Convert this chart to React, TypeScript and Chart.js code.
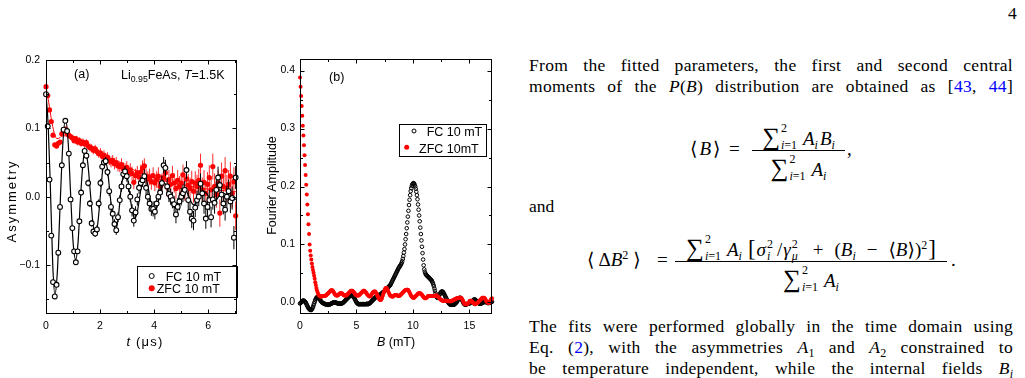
import React, { useEffect, useRef } from "react";
import { Chart, registerables } from "chart.js";

Chart.register(...registerables);

/* ---------- panel (a): muSR asymmetry vs time ---------- */

const TIME_US = [
  0, 0.065, 0.13, 0.195, 0.26, 0.325, 0.39, 0.455, 0.52, 0.585,
  0.65, 0.715, 0.78, 0.845, 0.91, 0.975, 1.04, 1.105, 1.17, 1.235,
  1.3, 1.365, 1.43, 1.495, 1.56, 1.625, 1.69, 1.755, 1.82, 1.885,
  1.95, 2.015, 2.08, 2.145, 2.21, 2.275, 2.34, 2.405, 2.47, 2.535,
  2.6, 2.665, 2.73, 2.795, 2.86, 2.925, 2.99, 3.055, 3.12, 3.185,
  3.25, 3.315, 3.38, 3.445, 3.51, 3.575, 3.64, 3.705, 3.77, 3.835,
  3.9, 3.965, 4.03, 4.095, 4.16, 4.225, 4.29, 4.355, 4.42, 4.485,
  4.55, 4.615, 4.68, 4.745, 4.81, 4.875, 4.94, 5.005, 5.07, 5.135,
  5.2, 5.265, 5.33, 5.395, 5.46, 5.525, 5.59, 5.655, 5.72, 5.785,
  5.85, 5.915, 5.98, 6.045, 6.11, 6.175, 6.24, 6.305, 6.37, 6.435,
  6.5, 6.565, 6.63, 6.695, 6.76, 6.825, 6.89, 6.955, 7.02,
];

const FC_ASYM = [
  0.150, 0.103, 0.025, -0.057, -0.125, -0.146, -0.129, -0.082, -0.015, 0.046,
  0.098, 0.111, 0.096, 0.063, -0.004, -0.046, -0.080, -0.096, -0.080, -0.036,
  0.006, 0.046, 0.067, 0.060, 0.020, -0.010, -0.039, -0.051, -0.054, -0.048,
  -0.010, 0.020, 0.044, 0.050, 0.052, 0.036, 0.008, -0.015, -0.025, -0.040,
  -0.049, -0.030, -0.005, 0.015, 0.033, 0.037, 0.030, 0.015, 0.000, -0.020,
  -0.035, -0.023, -0.004, 0.013, 0.020, 0.024, 0.030, 0.013, 0.000, -0.010,
  -0.018, -0.018, -0.022, -0.010, 0.000, 0.006, 0.020, 0.046, 0.042, 0.015,
  0.004, 0.000, -0.005, -0.011, -0.026, -0.015, -0.007, 0.000, 0.005, 0.010,
  0.039, -0.005, -0.022, -0.032, -0.035, -0.016, -0.005, 0.000, 0.019, 0.005,
  -0.010, -0.032, -0.015, -0.005, -0.030, -0.004, -0.009, 0.010, 0.028, 0.017,
  0.003, -0.010, -0.019, 0.000, 0.008, -0.007, -0.002, -0.060, 0.028,
];

const FC_ERR = [
  0.002, 0.002, 0.002, 0.002, 0.002, 0.002, 0.002, 0.003, 0.003, 0.003,
  0.003, 0.003, 0.003, 0.003, 0.003, 0.004, 0.004, 0.004, 0.004, 0.004,
  0.004, 0.004, 0.005, 0.005, 0.005, 0.005, 0.005, 0.005, 0.005, 0.006,
  0.006, 0.006, 0.006, 0.006, 0.006, 0.006, 0.007, 0.007, 0.007, 0.007,
  0.007, 0.007, 0.007, 0.008, 0.008, 0.008, 0.008, 0.008, 0.008, 0.009,
  0.009, 0.009, 0.009, 0.009, 0.009, 0.010, 0.010, 0.010, 0.010, 0.010,
  0.010, 0.011, 0.011, 0.011, 0.011, 0.011, 0.011, 0.012, 0.012, 0.012,
  0.012, 0.012, 0.012, 0.012, 0.013, 0.013, 0.013, 0.013, 0.013, 0.013,
  0.013, 0.014, 0.014, 0.014, 0.014, 0.014, 0.014, 0.014, 0.015, 0.015,
  0.015, 0.015, 0.015, 0.015, 0.015, 0.015, 0.016, 0.016, 0.016, 0.016,
  0.016, 0.016, 0.016, 0.016, 0.017, 0.017, 0.017, 0.017, 0.017,
];

const ZFC_ASYM = [
  0.161, 0.148, 0.127, 0.110, 0.090, 0.076, 0.074, 0.078, 0.080, 0.092,
  0.097, 0.099, 0.093, 0.090, 0.088, 0.086, 0.082, 0.085, 0.080, 0.082,
  0.078, 0.080, 0.077, 0.079, 0.074, 0.072, 0.071, 0.068, 0.070, 0.066,
  0.063, 0.064, 0.059, 0.061, 0.056, 0.058, 0.053, 0.051, 0.053, 0.048,
  0.050, 0.045, 0.044, 0.047, 0.041, 0.040, 0.043, 0.036, 0.039, 0.034,
  0.021, 0.031, 0.035, 0.029, 0.036, 0.042, 0.045, 0.030, 0.026, 0.029,
  0.022, 0.031, 0.020, 0.025, 0.030, 0.015, 0.021, 0.028, 0.035, 0.014,
  0.025, 0.018, 0.031, 0.020, 0.012, 0.024, 0.015, 0.020, 0.032, 0.010,
  0.026, 0.017, 0.012, 0.022, 0.008, 0.020, 0.015, 0.024, 0.046, 0.010,
  0.021, 0.005, 0.018, 0.028, 0.010, 0.044, 0.015, 0.003, 0.020, -0.024,
  0.030, 0.015, 0.038, 0.012, 0.018, 0.030, 0.005, 0.022, -0.028,
];

const ZFC_ERR = [
  0.002, 0.002, 0.002, 0.003, 0.003, 0.003, 0.003, 0.003, 0.003, 0.003,
  0.003, 0.003, 0.004, 0.004, 0.004, 0.004, 0.004, 0.004, 0.005, 0.005,
  0.005, 0.005, 0.005, 0.005, 0.005, 0.006, 0.006, 0.006, 0.006, 0.006,
  0.006, 0.007, 0.007, 0.007, 0.007, 0.007, 0.007, 0.008, 0.008, 0.008,
  0.008, 0.008, 0.008, 0.009, 0.009, 0.009, 0.009, 0.009, 0.010, 0.010,
  0.010, 0.010, 0.010, 0.010, 0.011, 0.011, 0.011, 0.011, 0.011, 0.012,
  0.012, 0.012, 0.012, 0.012, 0.013, 0.013, 0.013, 0.013, 0.013, 0.014,
  0.014, 0.014, 0.014, 0.014, 0.015, 0.015, 0.015, 0.015, 0.015, 0.016,
  0.016, 0.016, 0.016, 0.016, 0.017, 0.017, 0.017, 0.017, 0.017, 0.018,
  0.018, 0.018, 0.018, 0.018, 0.019, 0.019, 0.019, 0.019, 0.019, 0.020,
  0.020, 0.020, 0.020, 0.020, 0.021, 0.021, 0.021, 0.021, 0.021,
];

// fitted curves
const FC_FIT_T = [
  0, 0.08, 0.165, 0.25, 0.33, 0.42, 0.52, 0.62, 0.72, 0.82,
  0.91, 1.0, 1.1, 1.19, 1.28, 1.37, 1.46, 1.55, 1.65, 1.74,
  1.83, 1.92, 2.01, 2.1, 2.19, 2.28, 2.38, 2.48, 2.58, 2.67,
  2.75, 2.84, 2.93, 3.02, 3.11, 3.2, 3.29, 3.38, 3.47, 3.56,
  3.65, 3.74, 3.84, 3.93, 4.02, 4.11, 4.2, 4.29, 4.38, 4.47,
  4.57, 4.66, 4.76, 4.85, 4.94, 5.03, 5.12, 5.21, 5.3, 5.39,
  5.48, 5.57, 5.67, 5.76, 5.85, 5.94, 6.03, 6.12, 6.21, 6.3,
  6.39, 6.48, 6.58, 6.67, 6.76, 6.86, 6.95, 7.07,
];
const FC_FIT = [
  0.150, 0.105, 0.010, -0.100, -0.143, -0.110, -0.015, 0.075, 0.113, 0.080,
  0.005, -0.065, -0.092, -0.065, 0.000, 0.050, 0.068, 0.048, 0.002, -0.040,
  -0.055, -0.038, 0.000, 0.040, 0.054, 0.038, 0.000, -0.035, -0.048, -0.033,
  0.000, 0.027, 0.038, 0.026, 0.000, -0.022, -0.032, -0.022, 0.000, 0.022,
  0.031, 0.022, 0.000, -0.016, -0.022, -0.015, 0.000, 0.014, 0.020, 0.014,
  0.000, -0.012, -0.016, -0.011, 0.000, 0.008, 0.011, 0.007, -0.001, -0.009,
  -0.012, -0.008, 0.000, 0.006, 0.008, 0.005, 0.000, -0.005, -0.007, -0.005,
  0.000, 0.004, 0.005, 0.003, 0.000, -0.004, -0.005, -0.002,
];
const ZFC_FIT_T = [0, 0.1, 0.2, 0.3, 0.4, 0.5, 0.6, 0.8, 1.0, 1.5, 2.0, 2.5, 3.0, 3.5, 4.0, 4.5, 5.0, 5.5, 6.0, 6.5, 7.07];
const ZFC_FIT = [0.160, 0.138, 0.113, 0.094, 0.085, 0.086, 0.089, 0.089, 0.084, 0.074, 0.063, 0.052, 0.043, 0.035, 0.028, 0.022, 0.018, 0.014, 0.011, 0.009, 0.007];

const TIME_TICKS = [0, 2, 4, 6];
const TIME_LABELS = ["0", "2", "4", "6"];
const TIME_MINOR = [1, 3, 5, 7];
const ASYM_TICKS = [-0.1, 0, 0.1, 0.2];
const ASYM_LABELS = ["\u22120.1", "0.0", "0.1", "0.2"];
const ASYM_MINOR = [-0.15, -0.05, 0.05, 0.15];

/* ---------- panel (b): Fourier amplitude vs field ---------- */

const FIELD_MT = [
  0, 0.05, 0.1, 0.15, 0.2, 0.25, 0.3, 0.35, 0.4, 0.45, 0.5, 0.55, 0.6, 0.65, 0.7, 0.75, 0.8, 0.85, 0.9, 0.95,
  1, 1.05, 1.1, 1.15, 1.2, 1.25, 1.3, 1.35, 1.4, 1.45, 1.5, 1.55, 1.6, 1.65, 1.7, 1.75, 1.8, 1.85, 1.9, 1.95,
  2, 2.05, 2.1, 2.15, 2.2, 2.25, 2.3, 2.35, 2.4, 2.45, 2.5, 2.55, 2.6, 2.65, 2.7, 2.75, 2.8, 2.85, 2.9, 2.95,
  3, 3.05, 3.1, 3.15, 3.2, 3.25, 3.3, 3.35, 3.4, 3.45, 3.5, 3.55, 3.6, 3.65, 3.7, 3.75, 3.8, 3.85, 3.9, 3.95,
  4, 4.05, 4.1, 4.15, 4.2, 4.25, 4.3, 4.35, 4.4, 4.45, 4.5, 4.55, 4.6, 4.65, 4.7, 4.75, 4.8, 4.85, 4.9, 4.95,
  5, 5.05, 5.1, 5.15, 5.2, 5.25, 5.3, 5.35, 5.4, 5.45, 5.5, 5.55, 5.6, 5.65, 5.7, 5.75, 5.8, 5.85, 5.9, 5.95,
  6, 6.05, 6.1, 6.15, 6.2, 6.25, 6.3, 6.35, 6.4, 6.45, 6.5, 6.55, 6.6, 6.65, 6.7, 6.75, 6.8, 6.85, 6.9, 6.95,
  7, 7.05, 7.1, 7.15, 7.2, 7.25, 7.3, 7.35, 7.4, 7.45, 7.5, 7.55, 7.6, 7.65, 7.7, 7.75, 7.8, 7.85, 7.9, 7.95,
  8, 8.05, 8.1, 8.15, 8.2, 8.25, 8.3, 8.35, 8.4, 8.45, 8.5, 8.55, 8.6, 8.65, 8.7, 8.75, 8.8, 8.85, 8.9, 8.95,
  9, 9.05, 9.1, 9.15, 9.2, 9.25, 9.3, 9.35, 9.4, 9.45, 9.5, 9.55, 9.6, 9.65, 9.7, 9.75, 9.8, 9.85, 9.9, 9.95,
  10, 10.05, 10.1, 10.15, 10.2, 10.25, 10.3, 10.35, 10.4, 10.45, 10.5, 10.55, 10.6, 10.65, 10.7, 10.75, 10.8, 10.85, 10.9, 10.95,
  11, 11.05, 11.1, 11.15, 11.2, 11.25, 11.3, 11.35, 11.4, 11.45, 11.5, 11.55, 11.6, 11.65, 11.7, 11.75, 11.8, 11.85, 11.9, 11.95,
  12, 12.05, 12.1, 12.15, 12.2, 12.25, 12.3, 12.35, 12.4, 12.45, 12.5, 12.55, 12.6, 12.65, 12.7, 12.75, 12.8, 12.85, 12.9, 12.95,
  13, 13.05, 13.1, 13.15, 13.2, 13.25, 13.3, 13.35, 13.4, 13.45, 13.5, 13.55, 13.6, 13.65, 13.7, 13.75, 13.8, 13.85, 13.9, 13.95,
  14, 14.05, 14.1, 14.15, 14.2, 14.25, 14.3, 14.35, 14.4, 14.45, 14.5, 14.55, 14.6, 14.65, 14.7, 14.75, 14.8, 14.85, 14.9, 14.95,
  15, 15.05, 15.1, 15.15, 15.2, 15.25, 15.3, 15.35, 15.4, 15.45, 15.5, 15.55, 15.6, 15.65, 15.7, 15.75, 15.8, 15.85, 15.9, 15.95,
  16, 16.05, 16.1, 16.15, 16.2, 16.25, 16.3, 16.35, 16.4, 16.45, 16.5, 16.55, 16.6, 16.65, 16.7, 16.75, 16.8, 16.85, 16.9, 16.95,
  17,
];

const FC_FT = [
  -0.002, -0.001, 0.000, 0.001, 0.002, 0.003, 0.003, 0.003, 0.002, 0.001, 0.000, -0.002, -0.004, -0.006, -0.008, -0.010, -0.011, -0.012, -0.013, -0.013,
  -0.013, -0.012, -0.010, -0.008, -0.005, -0.002, 0.001, 0.004, 0.006, 0.008, 0.009, 0.009, 0.009, 0.008, 0.007, 0.005, 0.004, 0.002, 0.001, 0.000,
  -0.001, -0.001, -0.002, -0.002, -0.003, -0.003, -0.003, -0.004, -0.004, -0.004, -0.004, -0.004, -0.004, -0.003, -0.003, -0.002, -0.002, -0.001, -0.001, 0.000,
  0.000, 0.000, 0.000, 0.000, -0.001, -0.001, -0.001, -0.002, -0.002, -0.002, -0.002, -0.002, -0.002, -0.002, -0.002, -0.001, -0.001, 0.000, 0.001, 0.002,
  0.003, 0.004, 0.005, 0.006, 0.007, 0.008, 0.009, 0.010, 0.011, 0.011, 0.012, 0.012, 0.012, 0.011, 0.010, 0.009, 0.008, 0.006, 0.004, 0.002,
  0.000, -0.001, -0.002, -0.003, -0.003, -0.003, -0.003, -0.003, -0.003, -0.003, -0.003, -0.003, -0.003, -0.003, -0.003, -0.003, -0.003, -0.003, -0.003, -0.002,
  -0.003, -0.003, -0.002, -0.002, -0.001, 0.000, 0.001, 0.002, 0.003, 0.004, 0.005, 0.006, 0.007, 0.008, 0.009, 0.010, 0.010, 0.011, 0.011, 0.012,
  0.013, 0.013, 0.014, 0.014, 0.015, 0.016, 0.017, 0.017, 0.018, 0.019, 0.020, 0.021, 0.022, 0.023, 0.024, 0.025, 0.026, 0.027, 0.028, 0.029,
  0.030, 0.032, 0.034, 0.036, 0.038, 0.040, 0.042, 0.044, 0.046, 0.048, 0.050, 0.052, 0.054, 0.056, 0.058, 0.060, 0.061, 0.063, 0.064, 0.066,
  0.068, 0.071, 0.075, 0.080, 0.086, 0.092, 0.100, 0.109, 0.118, 0.128, 0.138, 0.148, 0.158, 0.168, 0.177, 0.185, 0.192, 0.197, 0.201, 0.204,
  0.205, 0.206, 0.205, 0.203, 0.200, 0.196, 0.191, 0.185, 0.178, 0.169, 0.160, 0.150, 0.140, 0.129, 0.118, 0.107, 0.096, 0.085, 0.074, 0.064,
  0.057, 0.053, 0.050, 0.048, 0.047, 0.046, 0.045, 0.044, 0.043, 0.042, 0.041, 0.040, 0.039, 0.038, 0.036, 0.034, 0.031, 0.028, 0.024, 0.020,
  0.016, 0.012, 0.009, 0.008, 0.008, 0.009, 0.011, 0.013, 0.015, 0.017, 0.018, 0.019, 0.019, 0.018, 0.017, 0.015, 0.013, 0.011, 0.009, 0.007,
  0.005, 0.003, 0.001, -0.001, -0.002, -0.003, -0.004, -0.004, -0.004, -0.004, -0.004, -0.004, -0.004, -0.004, -0.003, -0.002, -0.001, 0.000, 0.001, 0.003,
  0.005, 0.006, 0.007, 0.008, 0.008, 0.007, 0.006, 0.004, 0.002, 0.000, -0.002, -0.003, -0.004, -0.004, -0.004, -0.003, -0.003, -0.002, -0.002, -0.002,
  -0.002, -0.001, -0.001, 0.000, 0.001, 0.002, 0.003, 0.004, 0.005, 0.005, 0.005, 0.004, 0.003, 0.002, 0.001, 0.000, -0.001, -0.002, -0.002, -0.002,
  -0.002, -0.002, -0.001, -0.001, 0.000, 0.000, 0.001, 0.001, 0.001, 0.001, 0.000, 0.000, -0.001, -0.001, -0.001, -0.001, 0.000, 0.000, 0.001, 0.001,
  0.001,
];

const ZFC_FT = [
  0.388, 0.372, 0.356, 0.339, 0.322, 0.305, 0.288, 0.271, 0.254, 0.237, 0.220, 0.203, 0.186, 0.169, 0.152, 0.135, 0.118, 0.100, 0.089, 0.081,
  0.074, 0.067, 0.061, 0.056, 0.051, 0.046, 0.041, 0.035, 0.030, 0.025, 0.021, 0.018, 0.015, 0.013, 0.012, 0.011, 0.010, 0.010, 0.010, 0.010,
  0.011, 0.011, 0.011, 0.011, 0.011, 0.012, 0.012, 0.013, 0.014, 0.015, 0.016, 0.017, 0.018, 0.019, 0.020, 0.021, 0.021, 0.021, 0.020, 0.019,
  0.017, 0.015, 0.014, 0.013, 0.012, 0.012, 0.012, 0.012, 0.013, 0.014, 0.015, 0.016, 0.016, 0.016, 0.016, 0.015, 0.014, 0.013, 0.012, 0.012,
  0.012, 0.012, 0.012, 0.013, 0.014, 0.015, 0.016, 0.017, 0.018, 0.019, 0.020, 0.020, 0.020, 0.020, 0.019, 0.018, 0.017, 0.015, 0.014, 0.013,
  0.013, 0.012, 0.012, 0.012, 0.012, 0.013, 0.014, 0.015, 0.016, 0.017, 0.018, 0.019, 0.020, 0.020, 0.020, 0.019, 0.018, 0.017, 0.015, 0.014,
  0.013, 0.012, 0.011, 0.010, 0.010, 0.011, 0.012, 0.014, 0.016, 0.017, 0.018, 0.019, 0.019, 0.019, 0.018, 0.016, 0.014, 0.012, 0.010, 0.008,
  0.006, 0.005, 0.004, 0.004, 0.005, 0.007, 0.010, 0.013, 0.016, 0.019, 0.022, 0.024, 0.025, 0.025, 0.024, 0.022, 0.020, 0.017, 0.015, 0.013,
  0.012, 0.011, 0.010, 0.010, 0.010, 0.010, 0.011, 0.012, 0.013, 0.013, 0.013, 0.013, 0.012, 0.012, 0.011, 0.011, 0.011, 0.012, 0.013, 0.014,
  0.015, 0.016, 0.017, 0.018, 0.019, 0.020, 0.021, 0.021, 0.022, 0.022, 0.022, 0.022, 0.021, 0.019, 0.017, 0.015, 0.013, 0.011, 0.010, 0.009,
  0.008, 0.008, 0.008, 0.009, 0.010, 0.011, 0.012, 0.013, 0.014, 0.015, 0.016, 0.016, 0.016, 0.016, 0.015, 0.014, 0.013, 0.012, 0.010, 0.009,
  0.008, 0.007, 0.007, 0.007, 0.008, 0.009, 0.010, 0.011, 0.011, 0.011, 0.011, 0.011, 0.011, 0.011, 0.011, 0.011, 0.011, 0.011, 0.011, 0.011,
  0.012, 0.012, 0.012, 0.011, 0.010, 0.009, 0.008, 0.007, 0.006, 0.005, 0.004, 0.004, 0.003, 0.003, 0.003, 0.003, 0.003, 0.003, 0.003, 0.003,
  0.003, 0.003, 0.002, 0.002, 0.002, 0.002, 0.002, 0.002, 0.002, 0.003, 0.003, 0.004, 0.004, 0.005, 0.005, 0.006, 0.006, 0.007, 0.007, 0.007,
  0.008, 0.008, 0.008, 0.008, 0.008, 0.008, 0.007, 0.006, 0.004, 0.002, 0.000, -0.002, -0.003, -0.003, -0.003, -0.003, -0.003, -0.002, -0.001, 0.000,
  0.002, 0.003, 0.003, 0.003, 0.002, 0.001, 0.000, -0.001, -0.002, -0.003, -0.003, -0.003, -0.002, -0.001, -0.001, 0.000, 0.001, 0.002, 0.003, 0.004,
  0.005, 0.006, 0.007, 0.008, 0.008, 0.008, 0.008, 0.007, 0.006, 0.004, 0.002, 0.001, 0.000, -0.001, -0.001, 0.000, 0.001, 0.003, 0.005, 0.006,
  0.007,
];

const FIELD_TICKS = [0, 5, 10, 15];
const FIELD_LABELS = ["0", "5", "10", "15"];
const FIELD_MINOR = [2.5, 7.5, 12.5];
const AMP_TICKS = [0, 0.1, 0.2, 0.3, 0.4];
const AMP_LABELS = ["0.0", "0.1", "0.2", "0.3", "0.4"];
const AMP_MINOR = [0.05, 0.15, 0.25, 0.35];

/* ---------- drawing helpers ---------- */

const SANS = '"Liberation Sans", Arial, Helvetica, sans-serif';
const SERIF = '"Liberation Serif", "Times New Roman", Times, "DejaVu Serif", "Noto Serif", serif';
const RED = "#ff0000";
const BLUE = "#0000ff";

type Run = { t: string; italic?: boolean; sub?: boolean };

const runFont = (r: Run, size: number) =>
  `${r.italic ? "italic " : ""}${r.sub ? size * 0.7 : size}px ${SANS}`;

function runsWidth(ctx: CanvasRenderingContext2D, runs: Run[], size: number, spacing: number) {
  let w = 0;
  for (const r of runs) {
    ctx.font = runFont(r, size);
    w += ctx.measureText(r.t).width + spacing * r.t.length;
  }
  return w;
}

function drawRuns(ctx: CanvasRenderingContext2D, runs: Run[], x: number, y: number, size: number, spacing = 0) {
  let cx = x;
  for (const r of runs) {
    ctx.font = runFont(r, size);
    for (const ch of r.t) {
      ctx.fillText(ch, cx, r.sub ? y + size * 0.25 : y);
      cx += ctx.measureText(ch).width + spacing;
    }
  }
}

// frame with inward ticks on all four sides, annotations and an inset legend
const decorPlugin = {
  id: "decor",
  afterDraw(chart: any, _args: any, o: any) {
    const { ctx, chartArea: a } = chart;
    const xs = chart.scales.x;
    const ys = chart.scales.y;
    const L = Math.round(a.left) + 0.5;
    const R = Math.round(a.right) - 0.5;
    const T = Math.round(a.top) + 0.5;
    const B = Math.round(a.bottom) - 0.5;
    ctx.save();
    ctx.strokeStyle = "#000";
    ctx.lineWidth = 1;
    ctx.strokeRect(L, T, R - L, B - T);
    ctx.beginPath();
    const xTick = (v: number, len: number) => {
      const p = Math.round(xs.getPixelForValue(v)) + 0.5;
      if (p <= L || p >= R) return;
      ctx.moveTo(p, B);
      ctx.lineTo(p, B - len);
      ctx.moveTo(p, T);
      ctx.lineTo(p, T + len);
    };
    const yTick = (v: number, len: number) => {
      const p = Math.round(ys.getPixelForValue(v)) + 0.5;
      if (p <= T || p >= B) return;
      ctx.moveTo(L, p);
      ctx.lineTo(L + len, p);
      ctx.moveTo(R, p);
      ctx.lineTo(R - len, p);
    };
    o.xMajor.forEach((v: number) => xTick(v, 4));
    o.xMinor.forEach((v: number) => xTick(v, 2.5));
    o.yMajor.forEach((v: number) => yTick(v, 4));
    o.yMinor.forEach((v: number) => yTick(v, 2.5));
    ctx.stroke();

    ctx.fillStyle = "#000";
    ctx.textAlign = "left";
    ctx.textBaseline = "alphabetic";
    for (const t of o.texts) {
      const sp = t.spacing || 0;
      const w = runsWidth(ctx, t.runs, t.size, sp);
      ctx.save();
      ctx.translate(t.x, t.y);
      if (t.rotate) ctx.rotate(-Math.PI / 2);
      drawRuns(ctx, t.runs, t.align === "center" ? -w / 2 : 0, 0, t.size, sp);
      ctx.restore();
    }

    const lg = o.legend;
    const [x0, y0, x1, y1] = lg.box;
    ctx.fillStyle = "#fff";
    ctx.fillRect(x0, y0, x1 - x0, y1 - y0);
    ctx.strokeStyle = "#000";
    ctx.strokeRect(Math.round(x0) + 0.5, Math.round(y0) + 0.5, Math.round(x1 - x0), Math.round(y1 - y0));
    for (const it of lg.items) {
      const ds = chart.data.datasets[it.ds];
      ctx.beginPath();
      ctx.arc(it.mx, it.my, it.r, 0, Math.PI * 2);
      if (it.open) {
        ctx.fillStyle = "#fff";
        ctx.fill();
        ctx.lineWidth = 1;
        ctx.strokeStyle = "#000";
        ctx.stroke();
      } else {
        ctx.fillStyle = ds.pointBackgroundColor;
        ctx.fill();
      }
      ctx.fillStyle = "#000";
      drawRuns(ctx, [{ t: ds.label }], it.tx, it.ty, lg.size);
    }
    ctx.restore();
  },
};

// vertical error bars, drawn just before the dataset's markers
const errorBarPlugin = {
  id: "errorBars",
  beforeDatasetDraw(chart: any, args: any) {
    const ds = chart.data.datasets[args.index];
    if (!ds.errors) return;
    const { ctx, chartArea: a } = chart;
    const xs = chart.scales.x;
    const ys = chart.scales.y;
    ctx.save();
    ctx.beginPath();
    ctx.rect(a.left, a.top, a.right - a.left, a.bottom - a.top);
    ctx.clip();
    ctx.strokeStyle = ds.errorColor;
    ctx.lineWidth = 1;
    ctx.beginPath();
    ds.data.forEach((p: any, i: number) => {
      const px = xs.getPixelForValue(p.x);
      ctx.moveTo(px, ys.getPixelForValue(p.y + ds.errors[i]));
      ctx.lineTo(px, ys.getPixelForValue(p.y - ds.errors[i]));
    });
    ctx.stroke();
    ctx.restore();
  },
};

const tickFont = { family: SANS, size: 10.5 };

function fixedTicks(values: number[], labels: string[]) {
  return {
    afterBuildTicks: (s: any) => {
      s.ticks = values.map((v) => ({ value: v }));
    },
    ticks: {
      autoSkip: false,
      maxRotation: 0,
      color: "#000",
      font: tickFont,
      callback: (_v: any, i: number) => labels[i],
    },
  };
}

function makeTimeChart(canvas: HTMLCanvasElement) {
  const pts = (ys: number[]) => TIME_US.map((t, i) => ({ x: t, y: ys[i] }));
  const curve = (ts: number[], ys: number[]) => ts.map((t, i) => ({ x: t, y: ys[i] }));
  const xt = fixedTicks(TIME_TICKS, TIME_LABELS);
  const yt = fixedTicks(ASYM_TICKS, ASYM_LABELS);
  return new Chart(canvas, {
    type: "line",
    data: {
      datasets: [
        {
          label: "FC 10 mT",
          data: pts(FC_ASYM),
          showLine: false,
          pointRadius: 2.4,
          pointBorderWidth: 1.1,
          pointBorderColor: "#000",
          pointBackgroundColor: "#fff",
          clip: false,
          order: 1,
          errors: FC_ERR,
          errorColor: "#000",
        } as any,
        {
          label: "FC fit",
          data: curve(FC_FIT_T, FC_FIT),
          borderColor: "#000",
          borderWidth: 1.2,
          pointRadius: 0,
          cubicInterpolationMode: "monotone",
          order: 2,
        },
        {
          label: "ZFC fit",
          data: curve(ZFC_FIT_T, ZFC_FIT),
          borderColor: RED,
          borderWidth: 1,
          pointRadius: 0,
          cubicInterpolationMode: "monotone",
          order: 3,
        },
        {
          label: "ZFC 10 mT",
          data: pts(ZFC_ASYM),
          showLine: false,
          pointRadius: 2.6,
          pointBorderWidth: 0,
          pointBorderColor: RED,
          pointBackgroundColor: RED,
          clip: false,
          order: 4,
          errors: ZFC_ERR,
          errorColor: "#ff2a2a",
        } as any,
      ],
    },
    options: {
      responsive: false,
      animation: false,
      events: [],
      layout: { padding: { left: 0, right: 13, top: 20, bottom: 0 } },
      plugins: {
        legend: { display: false },
        tooltip: { enabled: false },
        decor: {
          xMajor: TIME_TICKS,
          xMinor: TIME_MINOR,
          yMajor: ASYM_TICKS,
          yMinor: ASYM_MINOR,
          texts: [
            { runs: [{ t: "(a)" }], x: 81.7, y: 37.5, align: "center", size: 12.5 },
            {
              runs: [{ t: "Li" }, { t: "0.95", sub: true }, { t: "FeAs, " }, { t: "T", italic: true }, { t: "=1.5K" }],
              x: 121,
              y: 38.5,
              size: 12.5,
            },
            { runs: [{ t: "Asymmetry" }], x: 16, y: 161, rotate: true, align: "center", size: 13, spacing: 2 },
            { runs: [{ t: "t", italic: true }, { t: " (\u03bcs)" }], x: 145, y: 306, align: "center", size: 13, spacing: 1.2 },
          ],
          legend: {
            box: [136.5, 226, 236, 257],
            size: 12.5,
            items: [
              { ds: 0, open: true, mx: 151.7, my: 236, r: 2.5, tx: 165.7, ty: 240.5 },
              { ds: 3, open: false, mx: 151.7, my: 248.3, r: 3, tx: 156.7, ty: 252.5 },
            ],
          },
        },
      } as any,
      scales: {
        x: {
          type: "linear",
          min: 0,
          max: 7.07,
          grid: { display: false, drawTicks: false },
          border: { display: false },
          afterFit: (s: any) => {
            s.height = 46;
          },
          ...xt,
          ticks: { ...xt.ticks, padding: 6 },
        },
        y: {
          type: "linear",
          min: -0.1717,
          max: 0.2,
          grid: { display: false, drawTicks: false },
          border: { display: false },
          afterFit: (s: any) => {
            s.width = 46;
          },
          ...yt,
          ticks: { ...yt.ticks, padding: 6 },
        },
      } as any,
    },
    plugins: [errorBarPlugin, decorPlugin],
  });
}

function makeFourierChart(canvas: HTMLCanvasElement) {
  const pts = (ys: number[]) => FIELD_MT.map((b, i) => ({ x: b, y: ys[i] }));
  const xt = fixedTicks(FIELD_TICKS, FIELD_LABELS);
  const yt = fixedTicks(AMP_TICKS, AMP_LABELS);
  return new Chart(canvas, {
    type: "line",
    data: {
      datasets: [
        {
          label: "FC 10 mT",
          data: pts(FC_FT),
          showLine: false,
          pointRadius: 1.8,
          pointBorderWidth: 1,
          pointBorderColor: "#000",
          pointBackgroundColor: "rgba(255,255,255,0)",
          clip: false,
          order: 2,
        } as any,
        {
          label: "ZFC 10mT",
          data: pts(ZFC_FT),
          showLine: false,
          pointRadius: 2,
          pointBorderWidth: 0,
          pointBorderColor: RED,
          pointBackgroundColor: RED,
          clip: false,
          order: 1,
        } as any,
      ],
    },
    options: {
      responsive: false,
      animation: false,
      events: [],
      layout: { padding: { left: 0, right: 8, top: 19, bottom: 0 } },
      plugins: {
        legend: { display: false },
        tooltip: { enabled: false },
        decor: {
          xMajor: FIELD_TICKS,
          xMinor: FIELD_MINOR,
          yMajor: AMP_TICKS,
          yMinor: AMP_MINOR,
          texts: [
            { runs: [{ t: "(b)" }], x: 86.7, y: 41, align: "center", size: 12.5 },
            { runs: [{ t: "Fourier Amplitude" }], x: 26, y: 145.5, rotate: true, align: "center", size: 12.5 },
            { runs: [{ t: "B", italic: true }, { t: " (mT)" }], x: 146, y: 306, align: "center", size: 12.5 },
          ],
          legend: {
            box: [149.3, 84, 236.7, 115.5],
            size: 12.5,
            items: [
              { ds: 0, open: true, mx: 164, my: 91, r: 2, tx: 176.7, ty: 95.5 },
              { ds: 1, open: false, mx: 156.7, my: 107.3, r: 2.5, tx: 169, ty: 112.5 },
            ],
          },
        },
      } as any,
      scales: {
        x: {
          type: "linear",
          min: 0,
          max: 17,
          grid: { display: false, drawTicks: false },
          border: { display: false },
          afterFit: (s: any) => {
            s.height = 46;
          },
          ...xt,
          ticks: { ...xt.ticks, padding: 6 },
        },
        y: {
          type: "linear",
          min: -0.02,
          max: 0.42,
          grid: { display: false, drawTicks: false },
          border: { display: false },
          afterFit: (s: any) => {
            s.width = 50;
          },
          ...yt,
          ticks: { ...yt.ticks, padding: 5 },
        },
      } as any,
    },
    plugins: [decorPlugin],
  });
}

function ChartCanvas({ make, left, top, width, height }: any) {
  const ref = useRef<HTMLCanvasElement>(null);
  useEffect(() => {
    const chart = make(ref.current!);
    return () => chart.destroy();
  }, [make]);
  return (
    <canvas
      ref={ref}
      width={width}
      height={height}
      style={{ position: "absolute", left, top, width, height, display: "block" }}
    />
  );
}

/* ---------- typeset text column ---------- */

const FS = 17.5;
const MS = 19;

// places a single line so that its baseline sits at y
function At({ x, y, size = FS, w, align = "left", children }: any) {
  return (
    <div
      style={{
        position: "absolute",
        left: x,
        top: y - 0.8375 * size,
        width: w,
        textAlign: align,
        fontFamily: SERIF,
        fontSize: size,
        lineHeight: `${size}px`,
        whiteSpace: "nowrap",
      }}
    >
      {children}
    </div>
  );
}

function TextLine({ y, children }: any) {
  return (
    <div
      style={{
        position: "absolute",
        left: 529,
        top: y - 0.8375 * FS,
        width: 484,
        fontFamily: SERIF,
        fontSize: FS,
        lineHeight: `${FS}px`,
        letterSpacing: 0.3,
        textAlign: "justify",
        textAlignLast: "justify",
      }}
    >
      {children}
    </div>
  );
}

const Sub = ({ children, dy = 3.5 }: any) => (
  <span style={{ fontSize: 12, position: "relative", top: dy, lineHeight: 0, letterSpacing: 0 }}>{children}</span>
);
const Sup = ({ children, dy = -7 }: any) => (
  <span style={{ fontSize: 12, position: "relative", top: dy, lineHeight: 0 }}>{children}</span>
);
const Gap = ({ w }: any) => <span style={{ display: "inline-block", width: w }} />;

// stacked superscript / subscript pair
function Lim({ sup, sub, w = 20, supY = -13, subY = 4 }: any) {
  return (
    <span style={{ display: "inline-block", position: "relative", width: w, height: 0 }}>
      <span style={{ position: "absolute", left: 1, top: supY - 10, fontSize: 12, lineHeight: "12px" }}>{sup}</span>
      <span style={{ position: "absolute", left: 1, top: subY - 10, fontSize: 12, lineHeight: "12px" }}>{sub}</span>
    </span>
  );
}

const Sum = () => <span style={{ fontSize: 25 }}>{"\u2211"}</span>;
const I = ({ children }: any) => <i>{children}</i>;
const Cite = ({ children }: any) => <span style={{ color: BLUE }}>{children}</span>;
const Big = ({ children }: any) => <span style={{ fontSize: 23 }}>{children}</span>;
const SumLim = () => (
  <>
    <Sum />
    <Lim sup="2" sub={<><I>i</I>=1</>} />
  </>
);

function Bar({ x, y, w }: any) {
  return <div style={{ position: "absolute", left: x, top: y, width: w, height: 1, background: "#000" }} />;
}

export default function App() {
  return (
    <div
      style={{
        position: "absolute",
        left: 0,
        top: 0,
        width: 1025,
        height: 378,
        background: "#fff",
        overflow: "hidden",
        color: "#000",
        fontFamily: SERIF,
      }}
    >
      <ChartCanvas make={makeTimeChart} left={0} top={40} width={250} height={320} />
      <ChartCanvas make={makeFourierChart} left={250} top={40} width={250} height={320} />

      <At x={1008} y={20}>4</At>

      <TextLine y={72}>From the fitted parameters, the first and second central</TextLine>
      <TextLine y={93}>
        moments of the <I>P</I>(<I>B</I>) distribution are obtained as [<Cite>43</Cite>, <Cite>44</Cite>]
      </TextLine>

      {/* first moment */}
      <At x={690} y={155} size={MS}>
        {"\u27e8"}
        <Gap w={2} />
        <I>B</I>
        <Gap w={2} />
        {"\u27e9"}
      </At>
      <At x={729} y={155} size={MS}>=</At>
      <At x={752} y={143} w={93} align="center" size={MS}>
        <SumLim />
        <Gap w={3} />
        <I>A</I>
        <Sub>
          <I>i</I>
        </Sub>
        <Gap w={2} />
        <I>B</I>
        <Sub>
          <I>i</I>
        </Sub>
      </At>
      <Bar x={752} y={150} w={93} />
      <At x={752} y={174} w={93} align="center" size={MS}>
        <SumLim />
        <Gap w={3} />
        <I>A</I>
        <Sub>
          <I>i</I>
        </Sub>
      </At>
      <At x={847} y={155} size={MS}>,</At>

      <At x={529} y={213}>and</At>

      {/* second moment */}
      <At x={587} y={266} size={MS}>
        {"\u27e8"}
        <Gap w={4} />
        {"\u0394"}
        <I>B</I>
        <Sup>2</Sup>
        <Gap w={5} />
        {"\u27e9"}
      </At>
      <At x={657} y={266} size={MS}>=</At>
      <At x={675} y={254} w={272} align="center" size={MS}>
        <SumLim />
        <Gap w={3} />
        <I>A</I>
        <Sub>
          <I>i</I>
        </Sub>
        <Gap w={6} />
        <Big>[</Big>
        <Gap w={1} />
        <I>{"\u03c3"}</I>
        <Lim sup="2" sub={<I>i</I>} w={10} supY={-8} subY={4} />
        <Gap w={1} />/<Gap w={1} />
        <I>{"\u03b3"}</I>
        <Lim sup="2" sub={<I>{"\u03bc"}</I>} w={11} supY={-8} subY={4} />
        <Gap w={11} />+<Gap w={11} />
        (<I>B</I>
        <Sub>
          <I>i</I>
        </Sub>
        <Gap w={11} />
        {"\u2212"}
        <Gap w={11} />
        {"\u27e8"}
        <I>B</I>
        {"\u27e9)"}
        <Sup>2</Sup>
        <Gap w={1} />
        <Big>]</Big>
      </At>
      <Bar x={675} y={261} w={272} />
      <At x={675} y={285} w={272} align="center" size={MS}>
        <SumLim />
        <Gap w={3} />
        <I>A</I>
        <Sub>
          <I>i</I>
        </Sub>
      </At>
      <At x={951} y={266} size={MS}>.</At>

      <TextLine y={333}>The fits were performed globally in the time domain using</TextLine>
      <TextLine y={354}>
        Eq. (<Cite>2</Cite>), with the asymmetries <I>A</I>
        <Sub>1</Sub> and <I>A</I>
        <Sub>2</Sub> constrained to
      </TextLine>
      <TextLine y={375}>
        be temperature independent, while the internal fields <I>B</I>
        <Sub>
          <I>i</I>
        </Sub>
      </TextLine>
    </div>
  );
}
